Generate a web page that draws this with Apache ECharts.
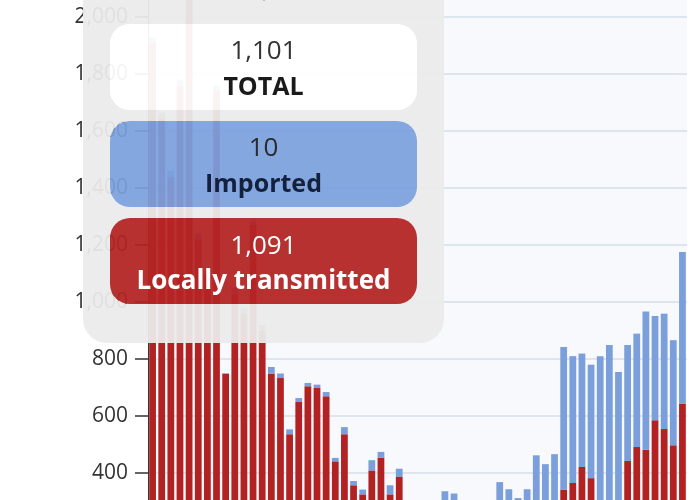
<!DOCTYPE html>
<html><head><meta charset="utf-8">
<script src="https://cdn.jsdelivr.net/npm/echarts@6/dist/echarts.min.js"></script>
<style>html,body{margin:0;padding:0;background:#fff}#c{width:700px;height:500px}</style>
</head><body><div id="c"></div>
<script>
const categories = ['Mar 1','Mar 2','Mar 3','Mar 4','Mar 5','Mar 6','Mar 7','Mar 8','Mar 9','Mar 10',
  'Mar 11','Mar 12','Mar 13','Mar 14','Mar 15','Mar 16','Mar 17','Mar 18','Mar 19','Mar 20',
  'Mar 21','Mar 22','Mar 23','Mar 24','Mar 25','Mar 26','Mar 27','Mar 28','Mar 29','Mar 30',
  'Mar 31','Apr 1','Apr 2','Apr 3','Apr 4','Apr 5','Apr 6','Apr 7','Apr 8','Apr 9',
  'Apr 10','Apr 11','Apr 12','Apr 13','Apr 14','Apr 15','Apr 16','Apr 17','Apr 18','Apr 19',
  'Apr 20','Apr 21','Apr 22','Apr 23','Apr 24','Apr 25','Apr 26','Apr 27','Apr 28'];
const localCases = [1910,1645,1440,1760,2100,1220,1091,1740,748,1030,
  960,1270,900,749,733,536,649,704,698,669,
  441,536,357,325,409,453,325,386,180,150,
  120,100,120,110,100,90,60,80,120,100,
  90,110,160,150,200,342,365,421,382,260,
  270,250,442,491,482,585,554,497,644];
const importedCases = [20,20,20,20,20,20,10,20,2,20,
  20,17,20,23,16,17,14,12,12,15,
  12,25,15,17,36,21,32,29,90,100,
  110,180,216,218,190,170,180,210,248,243,
  222,233,302,281,266,500,445,398,398,550,
  579,504,407,398,485,366,405,369,531];
const yMin = 0, yMax = 2200, yInterval = 200;
const hoverIndex = 6;

const fmt = v => Number(v).toLocaleString('en-US');
const hoverLocal = localCases[hoverIndex];
const hoverImported = importedCases[hoverIndex];
const hoverTotal = hoverLocal + hoverImported;

const PI = Math.PI;
function rrPath(ctx, x, y, w, h, r, ccw) {
  if (!ccw) {
    ctx.moveTo(x + r, y);
    ctx.lineTo(x + w - r, y);
    ctx.arc(x + w - r, y + r, r, -PI / 2, 0, false);
    ctx.lineTo(x + w, y + h - r);
    ctx.arc(x + w - r, y + h - r, r, 0, PI / 2, false);
    ctx.lineTo(x + r, y + h);
    ctx.arc(x + r, y + h - r, r, PI / 2, PI, false);
    ctx.lineTo(x, y + r);
    ctx.arc(x + r, y + r, r, PI, 1.5 * PI, false);
    ctx.closePath();
  } else {
    ctx.moveTo(x + r, y);
    ctx.arc(x + r, y + r, r, 1.5 * PI, PI, true);
    ctx.lineTo(x, y + h - r);
    ctx.arc(x + r, y + h - r, r, PI, PI / 2, true);
    ctx.lineTo(x + w - r, y + h);
    ctx.arc(x + w - r, y + h - r, r, PI / 2, 0, true);
    ctx.lineTo(x + w, y + r);
    ctx.arc(x + w - r, y + r, r, 0, -PI / 2, true);
    ctx.closePath();
  }
}
const HolePanel = echarts.graphic.extendShape({
  shape: { x: 0, y: 0, width: 0, height: 0, r: 0, holes: [] },
  buildPath: function (ctx, s) {
    rrPath(ctx, s.x, s.y, s.width, s.height, s.r, false);
    (s.holes || []).forEach(h => rrPath(ctx, h.x, h.y, h.width, h.height, h.r, true));
  }
});
echarts.graphic.registerShape('holePanel', HolePanel);

const BX = 110, BW = 307, BH = 86, BR = 20;
const boxY = [24, 121, 218];
const FF = '"Open Sans", "Noto Sans", sans-serif';
const cx = BX + BW / 2;

const chart = echarts.init(document.getElementById('c'));
chart.setOption({
  animation: false,
  grid: { left: 148, right: 13, top: -40, height: 627, show: true, backgroundColor: '#f7f9fc', borderWidth: 0,
          containLabel: false, outerBoundsMode: 'none' },
  xAxis: { type: 'category', data: categories, show: false },
  yAxis: {
    type: 'value', min: yMin, max: yMax, interval: yInterval,
    axisLine: { show: true, lineStyle: { color: '#333', width: 1 } },
    axisTick: { show: true, length: 13, lineStyle: { color: '#333', width: 1.5 } },
    axisLabel: { color: '#333', fontSize: 21, fontFamily: FF, margin: 20, formatter: fmt },
    splitLine: { lineStyle: { color: '#dde5ef', width: 2 } }
  },
  series: [
    { name: 'Locally transmitted', type: 'bar', stack: 'c', data: localCases, barCategoryGap: '26%',
      itemStyle: { color: '#b22222' } },
    { name: 'Imported', type: 'bar', stack: 'c', data: importedCases,
      itemStyle: { color: '#7b9fdb' } }
  ],
  graphic: [
    { type: 'holePanel', z: 100, shape: { x: 83, y: -40, width: 361, height: 383, r: 24,
        holes: boxY.map(y => ({ x: BX, y: y, width: BW, height: BH, r: BR })) },
      style: { fill: 'rgba(235,235,235,0.94)' } },
    { type: 'rect', z: 100, shape: { x: BX, y: boxY[0], width: BW, height: BH, r: BR }, style: { fill: 'rgba(255,255,255,0.94)' } },
    { type: 'rect', z: 100, shape: { x: BX, y: boxY[1], width: BW, height: BH, r: BR }, style: { fill: 'rgba(123,160,222,0.93)' } },
    { type: 'rect', z: 100, shape: { x: BX, y: boxY[2], width: BW, height: BH, r: BR }, style: { fill: 'rgba(180,36,36,0.94)' } },
    { type: 'text', z: 101, x: cx, y: 3, style: { text: categories[hoverIndex] + ', 2021', fill: '#aaa', fontSize: 22, fontFamily: FF, align: 'center', verticalAlign: 'bottom' } },
    { type: 'text', z: 101, x: cx, y: 52, style: { text: fmt(hoverTotal), fill: '#333', fontSize: 26, fontFamily: FF, align: 'center', verticalAlign: 'middle' } },
    { type: 'text', z: 101, x: cx, y: 88, style: { text: 'TOTAL', fill: '#1a1a1a', fontSize: 25, fontWeight: 'bold', fontFamily: FF, align: 'center', verticalAlign: 'middle' } },
    { type: 'text', z: 101, x: cx, y: 149, style: { text: fmt(hoverImported), fill: '#2a2a2a', fontSize: 26, fontFamily: FF, align: 'center', verticalAlign: 'middle' } },
    { type: 'text', z: 101, x: cx, y: 185, style: { text: 'Imported', fill: '#13213d', fontSize: 25, fontWeight: 'bold', fontFamily: FF, align: 'center', verticalAlign: 'middle' } },
    { type: 'text', z: 101, x: cx, y: 247, style: { text: fmt(hoverLocal), fill: '#fff', fontSize: 26, fontFamily: FF, align: 'center', verticalAlign: 'middle' } },
    { type: 'text', z: 101, x: cx, y: 282, style: { text: 'Locally transmitted', fill: '#fff', fontSize: 26, fontWeight: 'bold', fontFamily: FF, align: 'center', verticalAlign: 'middle' } }
  ]
});
</script></body></html>
